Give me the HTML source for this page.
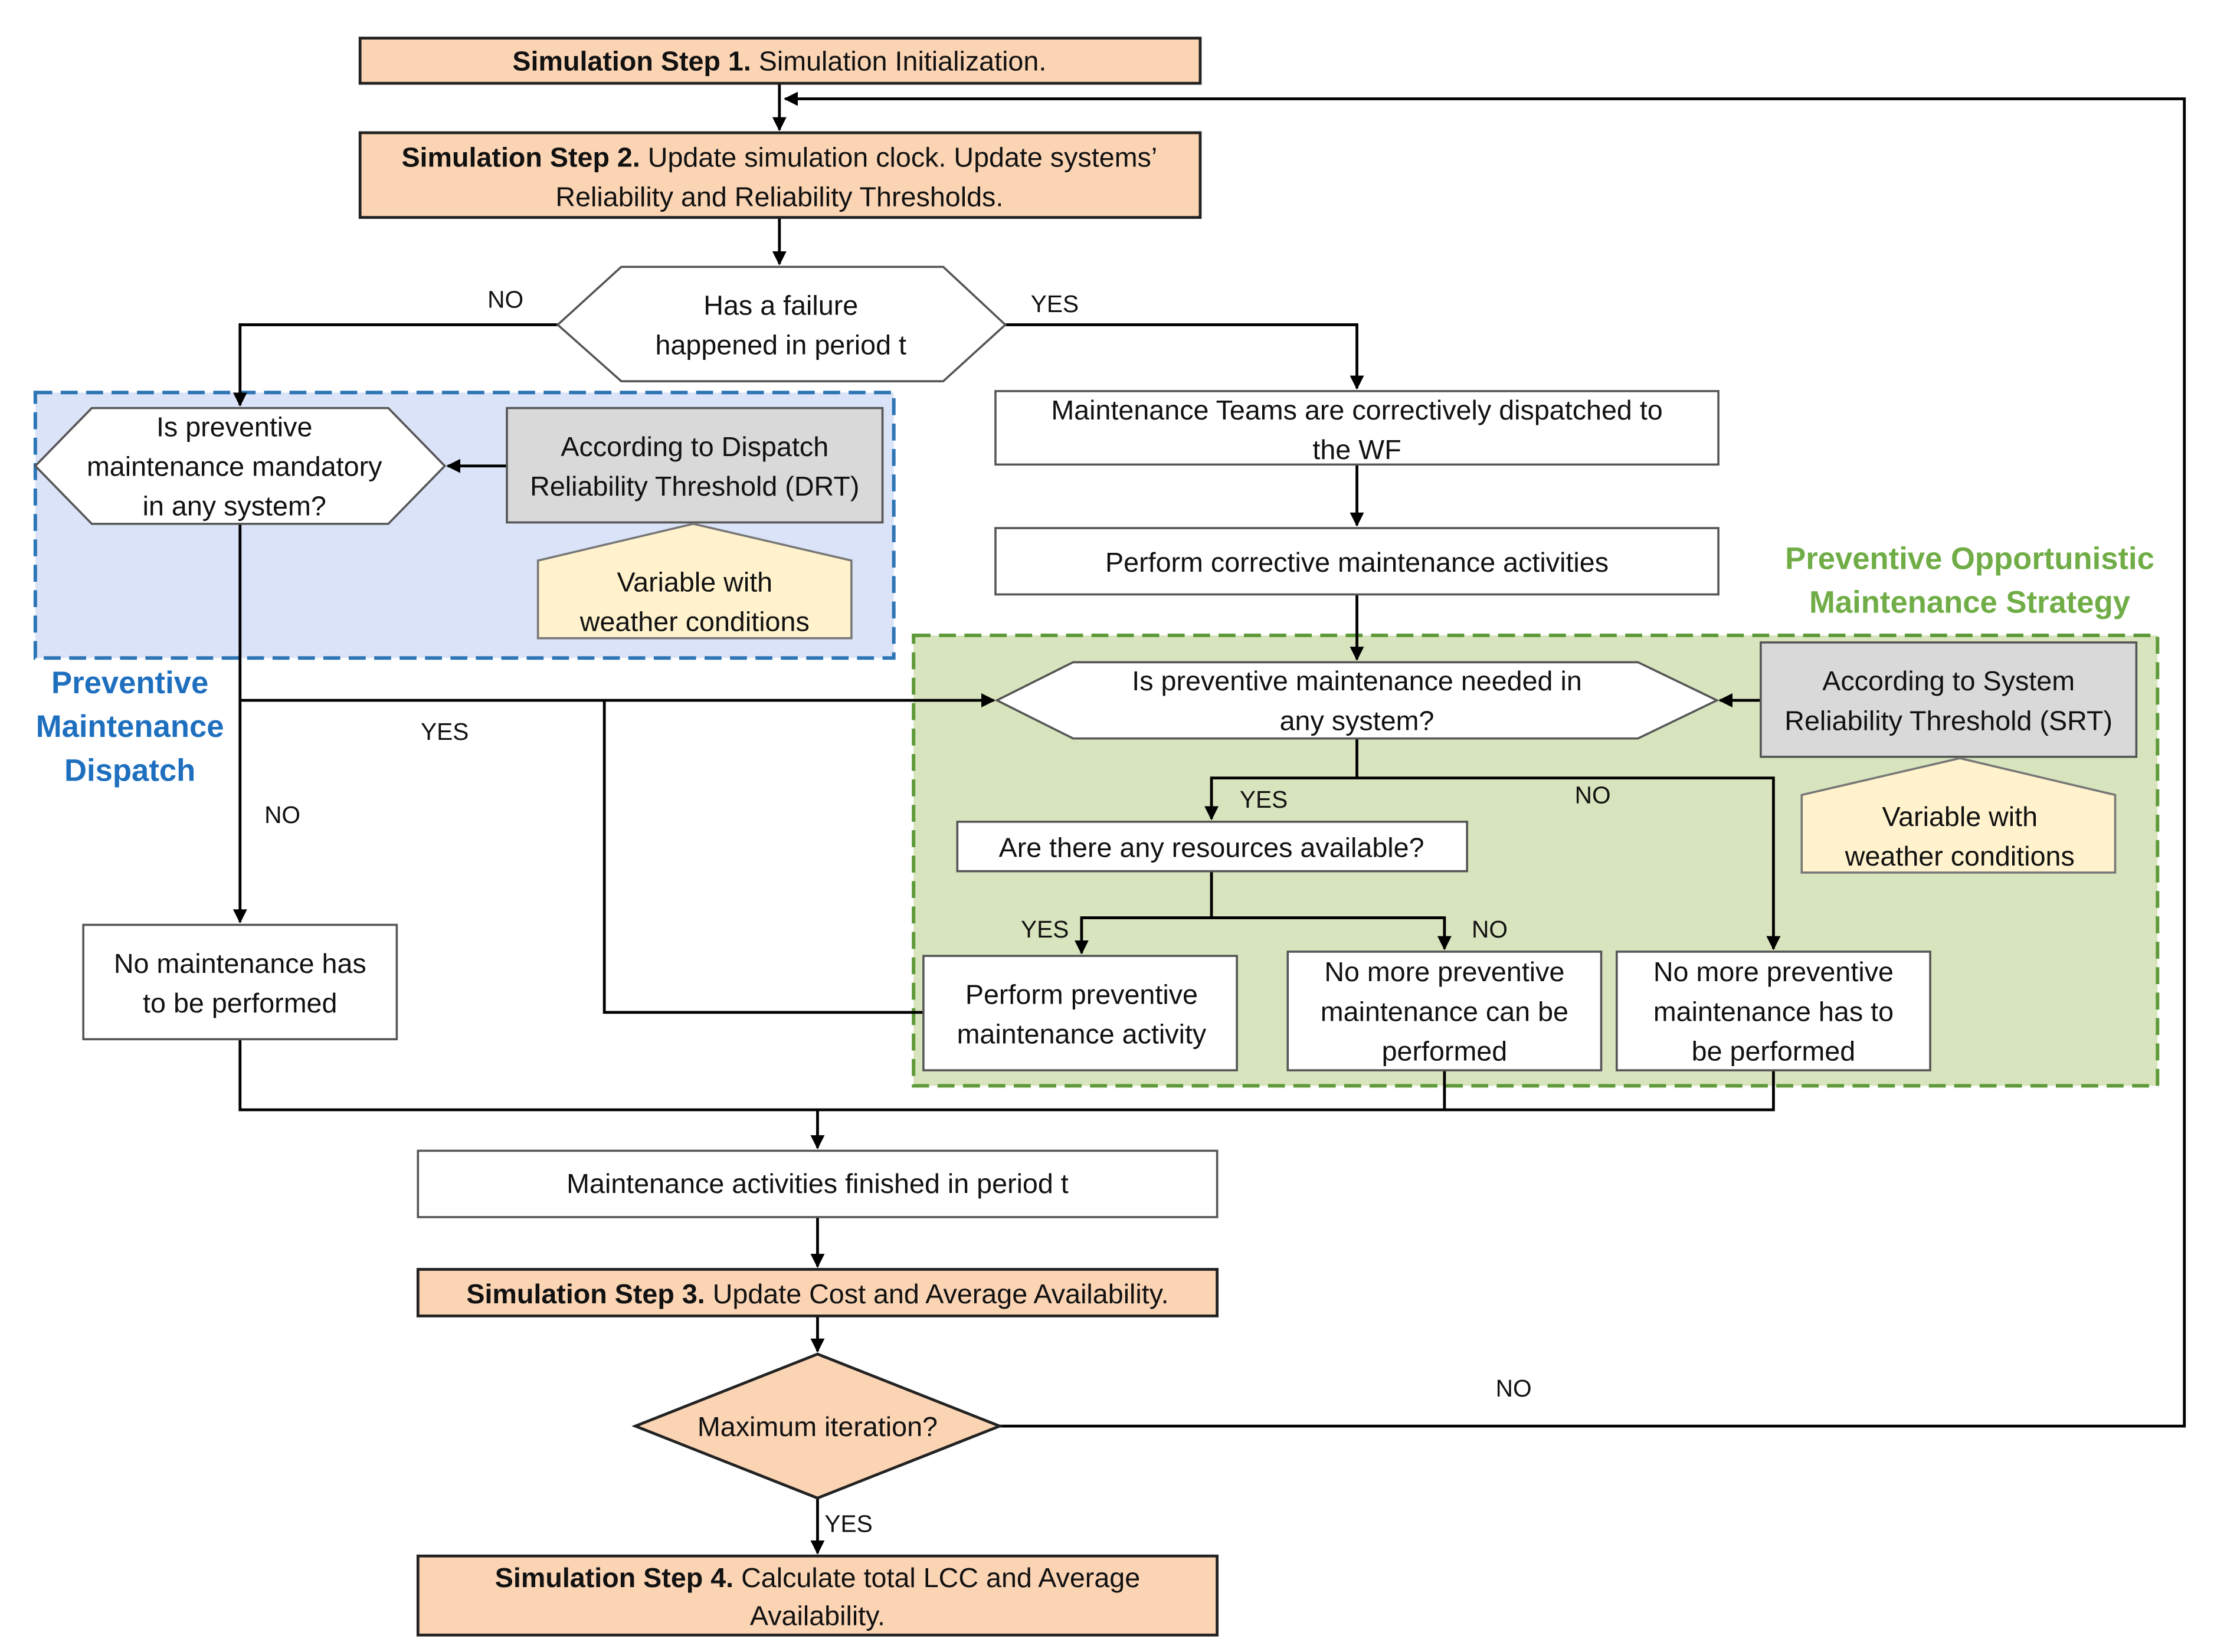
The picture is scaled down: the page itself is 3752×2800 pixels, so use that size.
<!DOCTYPE html>
<html><head><meta charset="utf-8"><style>
html,body{margin:0;padding:0;background:#fff;}
svg{display:block;}
text{font-family:"Liberation Sans",sans-serif;font-size:19.5px;fill:#111;}
</style></head><body>
<svg width="3752" height="2800" viewBox="0 0 1568 1170" preserveAspectRatio="none" xmlns="http://www.w3.org/2000/svg">
<defs>
<marker id="a" markerWidth="10" markerHeight="10" refX="9" refY="5" orient="auto" markerUnits="userSpaceOnUse" viewBox="0 0 10 10">
<path d="M0,0 L10,5 L0,10 z" fill="#000"/></marker>
</defs>
<rect width="1568" height="1170" fill="#fff"/>
<rect x="25" y="278" width="608" height="188" fill="#dae3f7" stroke="#2e75b6" stroke-width="2.5" stroke-dasharray="12,6"/>
<rect x="647" y="450" width="881" height="319" fill="#d7e4bd" stroke="#5f9a3a" stroke-width="2.5" stroke-dasharray="12,6"/>
<text x="92" y="491" text-anchor="middle" font-weight="bold" style="fill:#1f6fbf;font-size:22px">Preventive</text>
<text x="92" y="522" text-anchor="middle" font-weight="bold" style="fill:#1f6fbf;font-size:22px">Maintenance</text>
<text x="92" y="553" text-anchor="middle" font-weight="bold" style="fill:#1f6fbf;font-size:22px">Dispatch</text>
<text x="1395" y="403" text-anchor="middle" font-weight="bold" style="fill:#70ad47;font-size:22px">Preventive Opportunistic</text>
<text x="1395" y="434" text-anchor="middle" font-weight="bold" style="fill:#70ad47;font-size:22px">Maintenance Strategy</text>

<g stroke="#000" stroke-width="2" fill="none">
<path d="M552,59 V92" marker-end="url(#a)"/>
<path d="M708,1010 H1547 V70 H556" marker-end="url(#a)"/>
<path d="M552,154 V187" marker-end="url(#a)"/>
<path d="M395,230 H170 V287" marker-end="url(#a)"/>
<path d="M712,230 H961 V275" marker-end="url(#a)"/>
<path d="M961,329 V372" marker-end="url(#a)"/>
<path d="M961,421 V467" marker-end="url(#a)"/>
<path d="M359,330 H317" marker-end="url(#a)"/>
<path d="M1247,496 H1218" marker-end="url(#a)"/>
<path d="M170,371 V653" marker-end="url(#a)"/>
<path d="M170,496 H704" marker-end="url(#a)"/>
<path d="M654,717 H428 V496"/>
<path d="M961,523 V551 H1256 V672" marker-end="url(#a)"/>
<path d="M961,551 H858 V580" marker-end="url(#a)"/>
<path d="M858,617 V650 H766 V675" marker-end="url(#a)"/>
<path d="M858,650 H1023 V672" marker-end="url(#a)"/>
<path d="M170,736 V786 H1256 V758"/>
<path d="M1023,758 V786"/>
<path d="M579,786 V813" marker-end="url(#a)"/>
<path d="M579,862 V897" marker-end="url(#a)"/>
<path d="M579,932 V957" marker-end="url(#a)"/>
<path d="M579,1061 V1100" marker-end="url(#a)"/>
</g>

<g stroke-width="1.5">
<rect x="255" y="27" width="595" height="32" fill="#fbd4b4" stroke="#222" stroke-width="2"/>
<rect x="255" y="94" width="595" height="60" fill="#fbd4b4" stroke="#222" stroke-width="2"/>
<polygon points="395,230 440,189 668,189 712,230 668,270 440,270" fill="#fff" stroke="#555"/>
<polygon points="25,330 65,289 275,289 315,330 275,371 65,371" fill="#fff" stroke="#555"/>
<rect x="359" y="289" width="266" height="81" fill="#d9d9d9" stroke="#555"/>
<polygon points="381,397 491,371 603,397 603,452 381,452" fill="#fff2cc" stroke="#777"/>
<rect x="705" y="277" width="512" height="52" fill="#fff" stroke="#555"/>
<rect x="705" y="374" width="512" height="47" fill="#fff" stroke="#555"/>
<polygon points="706,496 760,469 1160,469 1216,496 1160,523 760,523" fill="#fff" stroke="#555"/>
<rect x="1247" y="455" width="266" height="81" fill="#d9d9d9" stroke="#555"/>
<polygon points="1276,563 1388,537 1498,563 1498,618 1276,618" fill="#fff2cc" stroke="#777"/>
<rect x="678" y="582" width="361" height="35" fill="#fff" stroke="#555"/>
<rect x="654" y="677" width="222" height="81" fill="#fff" stroke="#555"/>
<rect x="912" y="674" width="222" height="84" fill="#fff" stroke="#555"/>
<rect x="1145" y="674" width="222" height="84" fill="#fff" stroke="#555"/>
<rect x="59" y="655" width="222" height="81" fill="#fff" stroke="#555"/>
<rect x="296" y="815" width="566" height="47" fill="#fff" stroke="#555"/>
<rect x="296" y="899" width="566" height="33" fill="#fbd4b4" stroke="#222" stroke-width="2"/>
<polygon points="450,1010 579,959 708,1010 579,1061" fill="#fbd4b4" stroke="#222" stroke-width="2"/>
<rect x="296" y="1102" width="566" height="56" fill="#fbd4b4" stroke="#222" stroke-width="2"/>
</g>

<g text-anchor="middle">
<text x="552" y="50"><tspan font-weight="bold">Simulation Step 1.</tspan> Simulation Initialization.</text>
<text x="552" y="118"><tspan font-weight="bold">Simulation Step 2.</tspan> Update simulation clock. Update systems’</text>
<text x="552" y="146">Reliability and Reliability Thresholds.</text>
<text x="553" y="223">Has a failure</text>
<text x="553" y="251">happened in period t</text>
<text x="166" y="309">Is preventive</text>
<text x="166" y="337">maintenance mandatory</text>
<text x="166" y="365">in any system?</text>
<text x="492" y="323">According to Dispatch</text>
<text x="492" y="351">Reliability Threshold (DRT)</text>
<text x="492" y="419">Variable with</text>
<text x="492" y="447">weather conditions</text>
<text x="961" y="297">Maintenance Teams are correctively dispatched to</text>
<text x="961" y="325">the WF</text>
<text x="961" y="405">Perform corrective maintenance activities</text>
<text x="961" y="489">Is preventive maintenance needed in</text>
<text x="961" y="517">any system?</text>
<text x="1380" y="489">According to System</text>
<text x="1380" y="517">Reliability Threshold (SRT)</text>
<text x="1388" y="585">Variable with</text>
<text x="1388" y="613">weather conditions</text>
<text x="858" y="607">Are there any resources available?</text>
<text x="766" y="711">Perform preventive</text>
<text x="766" y="739">maintenance activity</text>
<text x="1023" y="695">No more preventive</text>
<text x="1023" y="723">maintenance can be</text>
<text x="1023" y="751">performed</text>
<text x="1256" y="695">No more preventive</text>
<text x="1256" y="723">maintenance has to</text>
<text x="1256" y="751">be performed</text>
<text x="170" y="689">No maintenance has</text>
<text x="170" y="717">to be performed</text>
<text x="579" y="845">Maintenance activities finished in period t</text>
<text x="579" y="923"><tspan font-weight="bold">Simulation Step 3.</tspan> Update Cost and Average Availability.</text>
<text x="579" y="1017">Maximum iteration?</text>
<text x="579" y="1124"><tspan font-weight="bold">Simulation Step 4.</tspan> Calculate total LCC and Average</text>
<text x="579" y="1151">Availability.</text>
</g>
<g text-anchor="middle">
<text x="358" y="218" style="font-size:17px">NO</text>
<text x="747" y="221" style="font-size:17px">YES</text>
<text x="200" y="583" style="font-size:17px">NO</text>
<text x="315" y="524" style="font-size:17px">YES</text>
<text x="895" y="572" style="font-size:17px">YES</text>
<text x="1128" y="569" style="font-size:17px">NO</text>
<text x="740" y="664" style="font-size:17px">YES</text>
<text x="1055" y="664" style="font-size:17px">NO</text>
<text x="1072" y="989" style="font-size:17px">NO</text>
<text x="601" y="1085" style="font-size:17px">YES</text>
</g>
</svg>
</body></html>
